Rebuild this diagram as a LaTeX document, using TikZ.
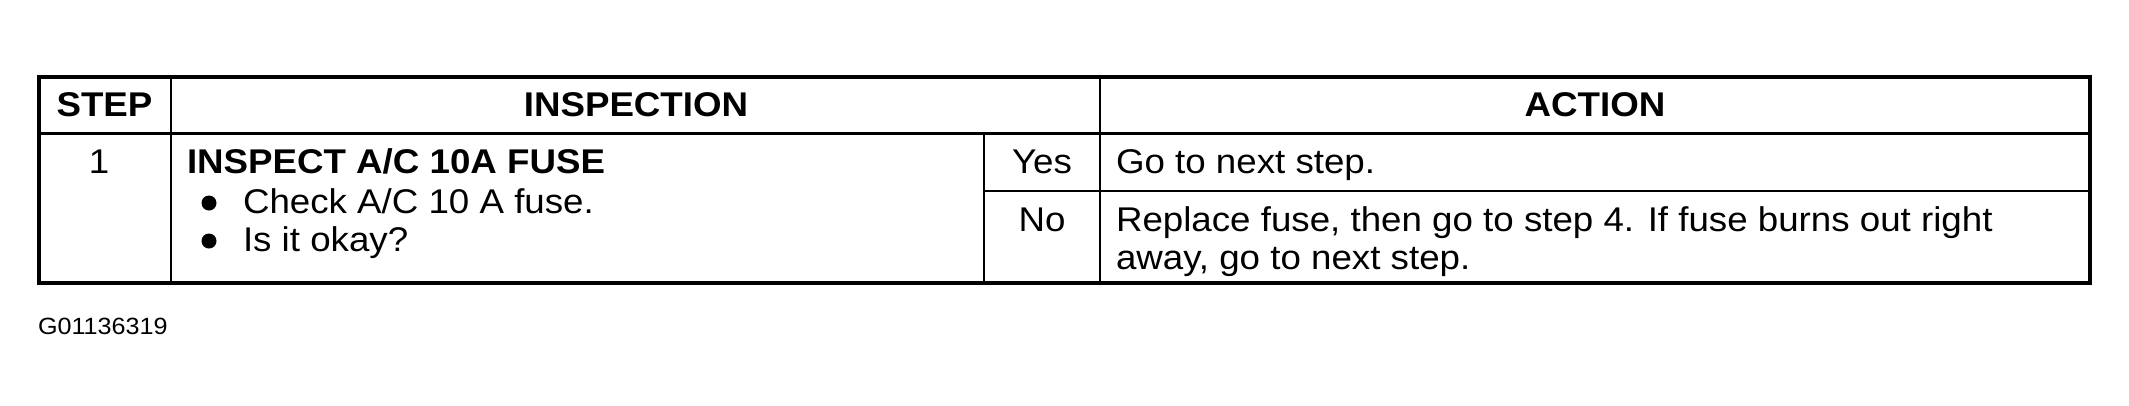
\documentclass[tikz,border=0pt]{standalone}
\usepackage{fontspec}
\setmainfont{Liberation Sans}[FakeStretch=1.07]
\begin{document}
\begin{tikzpicture}[x=1pt,y=-1pt,
  txt/.style={inner sep=0pt,outer sep=0pt,font=\fontsize{34.3}{40}\selectfont},
  bold/.style={txt,font=\fontsize{34.3}{40}\selectfont\bfseries},
  small/.style={inner sep=0pt,outer sep=0pt,font=\fontsize{23.5}{28}\selectfont},
  outer/.style={line width=4pt},
  inner/.style={line width=2pt},
  dot/.style={circle,fill=black,inner sep=0pt,minimum size=15pt}]
\useasboundingbox[fill=white] (0,0) rectangle (2129,405);
% grid coordinates
\coordinate (tl) at (39,77);
\coordinate (br) at (2090,283);
\coordinate (hl) at (39,133);
\coordinate (hr) at (2090,133);
\coordinate (s1) at (171,77);
\coordinate (s2) at (171,283);
\coordinate (a1) at (1100,77);
\coordinate (a2) at (1100,283);
\coordinate (y1) at (984,133);
\coordinate (y2) at (984,283);
\coordinate (r1) at (984,191);
\coordinate (r2) at (2090,191);
% lines
\draw[outer] (tl) rectangle (br);
\draw[line width=3pt] (hl) -- (hr);
\draw[inner] (s1) -- (s2);
\draw[inner] (a1) -- (a2);
\draw[inner] (y1) -- (y2);
\draw[inner] (r1) -- (r2);
% header
\node[bold,anchor=base] (step) at (104.5,116) {STEP};
\node[bold,anchor=base] (insp) at (636,116) {INSPECTION};
\node[bold,anchor=base] (act) at (1595,116) {ACTION};
% row
\node[txt,anchor=base] (n1) at (99,173) {1};
\node[bold,anchor=base west] (title) at (187,173) {INSPECT A/C 10A FUSE};
\node[dot] (b1) at (209,203) {};
\node[txt,anchor=base west] (c1) at (243,213) {Check A/C 10 A fuse.};
\node[dot] (b2) at (209,241) {};
\node[txt,anchor=base west] (c2) at (243,251) {Is it okay?};
\node[txt,anchor=base] (yes) at (1042,173) {Yes};
\node[txt,anchor=base] (no) at (1042,231) {No};
\node[txt,anchor=base west] (go) at (1116,173) {Go to next step.};
\node[txt,anchor=base west] (rep1) at (1116,231) {Replace fuse, then go to step 4. If fuse burns out right};
\node[txt,anchor=base west] (rep2) at (1116,269) {away, go to next step.};
\node[small,anchor=base west] (code) at (38,334) {G01136319};
\end{tikzpicture}
\end{document}
